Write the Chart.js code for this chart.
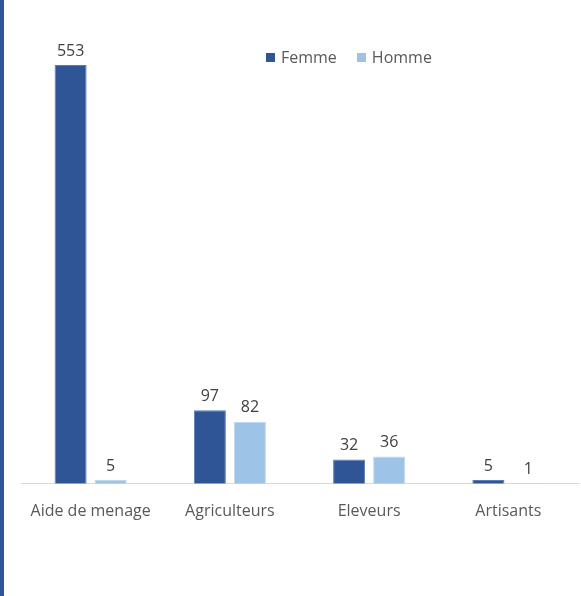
<!DOCTYPE html>
<html>
<head>
<meta charset="utf-8">
<script src="https://cdn.jsdelivr.net/npm/chart.js@4.4.1/dist/chart.umd.min.js"></script>
<style>
    body { margin: 0; background: #fff; }
    #cadre { position: relative; width: 581px; height: 596px; overflow: hidden; }
    #barreGauche { position: absolute; left: 0; top: 0; width: 4px; height: 596px; background: #2F5597; }
    #dvCanvas { position: absolute; left: 0; top: 0; width: 581px; height: 596px; }
    #legende { position: absolute; top: 46px; left: 266px; font: 16px "Open Sans", sans-serif; color: #595959; display: flex; }
    #legende span.item { display: flex; align-items: center; margin-right: 20px; }
    #legende span.carre { width: 9px; height: 9px; display: inline-block; margin-right: 6px; }
</style>
</head>
<body>
<div id="cadre">
    <div id="barreGauche"></div>
    <div id="dvCanvas"><canvas id="canvasBarras"></canvas></div>
    <div id="legende"></div>
</div>
<script>
var categories = ["Aide de menage", "Agriculteurs", "Eleveurs", "Artisants"];
var femme = [553, 97, 32, 5];
var homme = [5, 82, 36, 1];
var series = ["Femme", "Homme"];
var couleurs = ["#2F5597", "#9DC3E6"];

var etiquettes = {
    id: 'etiquettes',
    afterDatasetsDraw: function (chart) {
        var ctx = chart.ctx;
        ctx.save();
        ctx.font = '16px "Open Sans", sans-serif';
        ctx.fillStyle = '#404040';
        ctx.textAlign = 'center';
        ctx.textBaseline = 'bottom';
        chart.data.datasets.forEach(function (ds, i) {
            chart.getDatasetMeta(i).data.forEach(function (bar, j) {
                ctx.fillText(ds.data[j], bar.x, bar.y - 6);
            });
        });
        ctx.restore();
    }
};

var ctx = document.getElementById("canvasBarras").getContext("2d");
window.myBar = new Chart(ctx, {
    type: 'bar',
    data: {
        labels: categories,
        datasets: [{
            label: series[0],
            backgroundColor: couleurs[0],
            borderColor: '#5a7bb5',
            borderWidth: 1,
            data: femme
        }, {
            label: series[1],
            backgroundColor: couleurs[1],
            borderColor: '#c0d8ee',
            borderWidth: 1,
            data: homme
        }]
    },
    options: {
        responsive: true,
        maintainAspectRatio: false,
        animation: false,
        categoryPercentage: 0.575,
        barPercentage: 0.8,
        layout: { padding: { left: 21, right: 3, top: 40, bottom: 65 } },
        plugins: {
            legend: { display: false },
            tooltip: { enabled: false },
            title: { display: false }
        },
        scales: {
            x: {
                grid: { display: false },
                border: { color: '#d9d9d9', width: 1 },
                ticks: { color: '#595959', font: { family: 'Open Sans', size: 16 }, padding: 10, maxRotation: 0 }
            },
            y: {
                display: false,
                min: 0,
                max: 586
            }
        }
    },
    plugins: [etiquettes]
});

var legende = document.getElementById("legende");
series.forEach(function (s, i) {
    var item = document.createElement("span");
    item.className = "item";
    var carre = document.createElement("span");
    carre.className = "carre";
    carre.style.background = couleurs[i];
    item.appendChild(carre);
    item.appendChild(document.createTextNode(s));
    legende.appendChild(item);
});
</script>
</body>
</html>
